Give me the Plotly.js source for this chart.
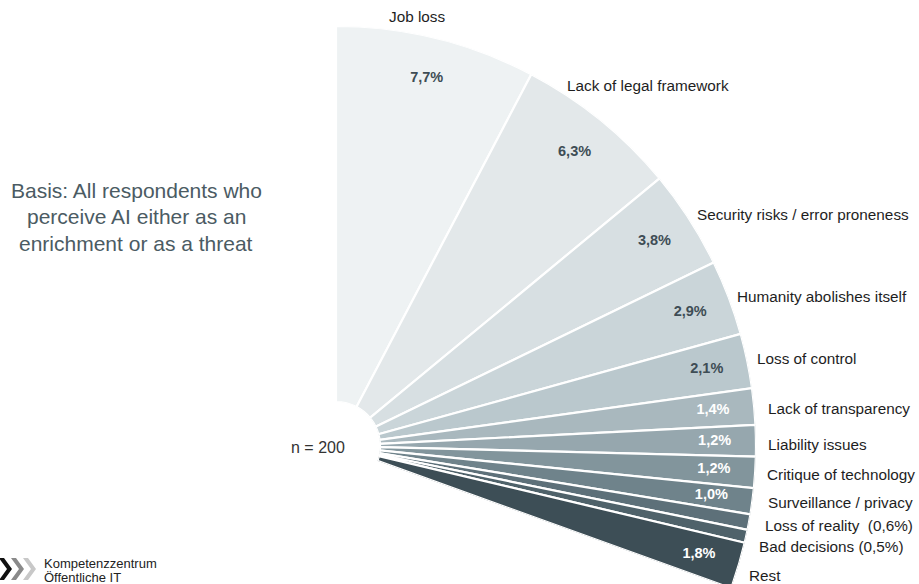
<!DOCTYPE html>
<html>
<head>
<meta charset="utf-8">
<script src="https://cdn.plot.ly/plotly-3.0.1.min.js"></script>
<style>
html, body { margin: 0; padding: 0; background: #ffffff; overflow: hidden; width: 919px; height: 584px; }
#chart { width: 919px; height: 590px; }
</style>
</head>
<body>
<div id="chart"></div>
<script>
// ---- data ----
const categories = ['Job loss', 'Lack of legal framework', 'Security risks / error proneness',
  'Humanity abolishes itself', 'Loss of control', 'Lack of transparency', 'Liability issues',
  'Critique of technology', 'Surveillance / privacy', 'Loss of reality', 'Bad decisions', 'Rest'];
const values = [7.7, 6.3, 3.8, 2.9, 2.1, 1.4, 1.2, 1.2, 1.0, 0.6, 0.5, 1.8];
const pctLabels = ['7,7%', '6,3%', '3,8%', '2,9%', '2,1%', '1,4%', '1,2%', '1,2%', '1,0%', '', '', '1,8%'];
const outerLabels = ['Job loss', 'Lack of legal framework', 'Security risks / error proneness',
  'Humanity abolishes itself', 'Loss of control', 'Lack of transparency', 'Liability issues',
  'Critique of technology', 'Surveillance / privacy', 'Loss of reality&nbsp; (0,6%)',
  'Bad decisions (0,5%)', 'Rest'];
const basisLines = ['Basis: All respondents who', 'perceive AI either as an', 'enrichment or as a threat'];
const sampleText = 'n = 200';
const logoLines = ['Kompetenzzentrum', 'Öffentliche IT'];

// ---- styles / layout constants ----
const W = 919, H = 590;
const DEG_PER_PCT = 3.6;
const FONT = 'Liberation Sans, Arial, sans-serif';
const colors = ['#eef2f3', '#e3e8ea', '#d7dfe2', '#cad5d9', '#bac8cd', '#a9b8be',
  '#96a7ae', '#82959c', '#6f838b', '#5d7079', '#4f626a', '#3d4e56'];
const pctColors = ['#3e4d55', '#3e4d55', '#3e4d55', '#3e4d55', '#3e4d55', '#ffffff',
  '#ffffff', '#ffffff', '#ffffff', '#ffffff', '#ffffff', '#ffffff'];
// outer label anchor positions in pixels [x, y, xanchor]
const outerPos = [[417, 16, 'center'], [565, 85, 'left'], [695, 215, 'left'], [735, 297, 'left'],
  [755, 358, 'left'], [766, 408, 'left'], [766, 444, 'left'], [765, 474, 'left'],
  [766, 502, 'left'], [763, 525, 'left'], [757, 546, 'left'], [747, 575, 'left']];
const centerPx = [336, 446], radiusPx = 420, holePx = 44;

const px = (x) => x / W;
const py = (y) => 1 - y / H;

const total = values.reduce((a, b) => a + b, 0);
const theta = [], widths = [];
let acc = 0;
values.forEach(v => { theta.push((acc + v / 2) * DEG_PER_PCT); widths.push(v * DEG_PER_PCT); acc += v; });
const sectorLow = 90 - total * DEG_PER_PCT;

// polar domain so that the fan centre/radius match
const bboxDy = 1 - Math.sin(sectorLow * Math.PI / 180);
const topPx = centerPx[1] - radiusPx;
const botPx = topPx + bboxDy * radiusPx;
const domainX = [px(centerPx[0]), px(centerPx[0] + radiusPx)];
const domainY = [Math.max(0, py(botPx)), py(topPx)];

const bars = {
  type: 'barpolar',
  r: values.map(() => 1),
  theta: theta,
  width: widths,
  text: categories,
  marker: { color: colors, line: { color: '#ffffff', width: 2.2 } },
  hoverinfo: 'skip',
  showlegend: false
};
const pctTrace = {
  type: 'scatterpolar',
  mode: 'text',
  r: values.map(() => 0.89),
  theta: theta,
  text: pctLabels.map(t => t ? '<b>' + t + '</b>' : ''),
  textposition: 'middle center',
  textfont: { family: FONT, size: 14.5, color: pctColors },
  cliponaxis: false,
  hoverinfo: 'skip',
  showlegend: false
};

const annotations = [];
outerLabels.forEach((t, i) => {
  annotations.push({ xref: 'paper', yref: 'paper', x: px(outerPos[i][0]), y: py(outerPos[i][1]),
    xanchor: outerPos[i][2], yanchor: 'middle', text: t, showarrow: false,
    font: { family: FONT, size: 15.3, color: '#1e1e1e' } });
});
basisLines.forEach((t, i) => {
  annotations.push({ xref: 'paper', yref: 'paper', x: px(136), y: py(190 + i * 26.5),
    xanchor: 'center', yanchor: 'middle', text: t, showarrow: false,
    font: { family: FONT, size: 21, color: '#4b5b63' } });
});
annotations.push({ xref: 'paper', yref: 'paper', x: px(289), y: py(447), xanchor: 'left', yanchor: 'middle',
  text: sampleText, showarrow: false, font: { family: FONT, size: 16, color: '#333333' } });
logoLines.forEach((t, i) => {
  annotations.push({ xref: 'paper', yref: 'paper', x: px(42), y: py(563 + i * 14), xanchor: 'left', yanchor: 'middle',
    text: t, showarrow: false, font: { family: FONT, size: 13, color: '#222222' } });
});

function chevron(x0, color) {
  const t = 5, w = 8, top = 558, bot = 580, mid = 569;
  const pts = [[x0, top], [x0 + t, top], [x0 + t + w, mid], [x0 + t, bot], [x0, bot], [x0 + w, mid]];
  const d = 'M ' + pts.map(p => px(p[0]) + ',' + py(p[1])).join(' L ') + ' Z';
  return { type: 'path', xref: 'paper', yref: 'paper', path: d, fillcolor: color, line: { width: 0 } };
}
const shapes = [chevron(-1, '#111111'), chevron(11, '#8a8a8a'), chevron(23, '#c8c8c8')];

const layout = {
  width: W, height: H,
  margin: { l: 0, r: 0, t: 0, b: 0 },
  paper_bgcolor: '#ffffff',
  plot_bgcolor: '#ffffff',
  showlegend: false,
  polar: {
    domain: { x: domainX, y: domainY },
    sector: [sectorLow, 90],
    hole: holePx / radiusPx,
    bgcolor: 'rgba(0,0,0,0)',
    radialaxis: { visible: false, range: [0, 1], showgrid: false },
    angularaxis: { visible: false, rotation: 90, direction: 'clockwise', showgrid: false,
      showline: false, ticks: '', showticklabels: false }
  },
  annotations: annotations,
  shapes: shapes
};

Plotly.newPlot('chart', [bars, pctTrace], layout, { staticPlot: true, displayModeBar: false });
</script>
</body>
</html>
